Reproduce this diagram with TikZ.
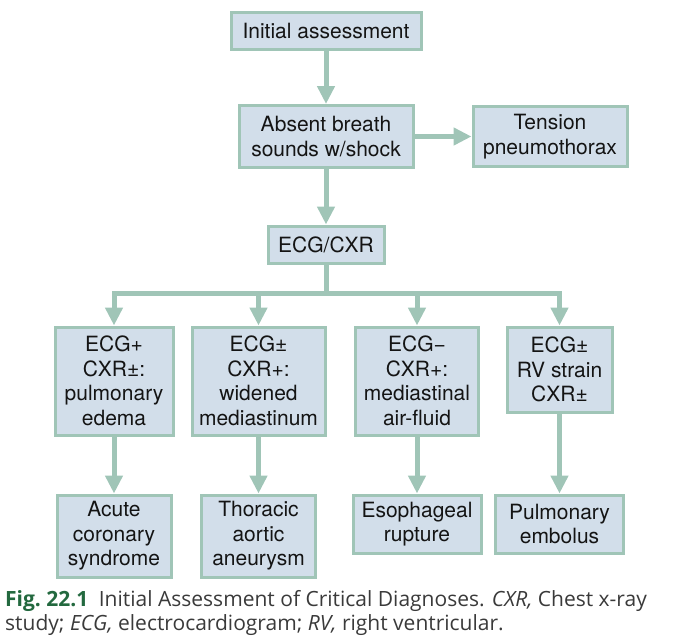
\documentclass[tikz,border=0pt]{standalone}
\usepackage{fontspec}
\setmainfont{TeX Gyre Heros}
\newfontfamily\capfont{Open Sans}
\usepackage{xcolor}
\usepackage{tikz}
\usetikzlibrary{arrows.meta,positioning,calc}
\definecolor{INK}{HTML}{141414}
\definecolor{BOXBG}{HTML}{D2DEEA}
\definecolor{SAGE}{HTML}{A0C5B7}
\definecolor{FIGGREEN}{HTML}{23693F}
\definecolor{CAPTXT}{HTML}{3A3A3A}

\begin{document}
\begin{tikzpicture}[
  x=1pt, y=-1pt,
  font=\fontsize{21}{24.5}\selectfont,
  dx/.style={draw=SAGE, fill=BOXBG, line width=3pt, align=center, text=INK,
    inner sep=0pt},
  link/.style={draw=SAGE, line width=5pt},
  arr/.style={link, -{Triangle[length=18pt, width=17pt]}},
  captxt/.style={anchor=base west, inner sep=0pt, text=CAPTXT,
    font=\capfont\fontsize{21}{24}\selectfont},
]
\useasboundingbox (0,0) rectangle (687,643);

% ---- top of the chart -----------------------------------------------------
\node[dx, minimum width=190pt, minimum height=37pt] (init) at (326,30.5) {Initial assessment};
\node[dx, minimum width=174pt, minimum height=62pt] (absent) at (326,136.5) {Absent breath\\sounds w/shock};
\node[dx, minimum width=154pt, minimum height=60pt] (tension) at (550,136.5) {Tension\\pneumothorax};
\node[dx, minimum width=116pt, minimum height=37pt] (ecg) at (326,244.5) {ECG/CXR};
\draw[arr] (init.south) -- (absent.north);
\draw[arr] (absent.east) -- (tension.west);
\draw[arr] (absent.south) -- (ecg.north);

% ---- findings -------------------------------------------------------------
\node[dx, minimum width=118pt, minimum height=108pt] (f1) at (114,381) {ECG+\\CXR±:\\pulmonary\\edema};
\node[dx, minimum width=133pt, minimum height=108pt] (f2) at (258.5,381) {ECG±\\CXR+:\\widened\\mediastinum};
\node[dx, minimum width=123pt, minimum height=108pt] (f3) at (417,381) {ECG−\\CXR+:\\mediastinal\\air-fluid};
\node[dx, minimum width=105pt, minimum height=85pt] (f4) at (559.5,369.5) {ECG±\\RV strain\\CXR±};

% ---- split from ECG/CXR ---------------------------------------------------
\coordinate (bus) at (326,293);
\foreach \i in {1,...,4}
  \draw[arr] (ecg.south) -- (bus) -| (f\i.north);

% ---- diagnoses ------------------------------------------------------------
\node[dx, minimum width=114pt, minimum height=82pt] (d1) at (114,536) {Acute\\coronary\\syndrome};
\node[dx, minimum width=114pt, minimum height=82pt] (d2) at (258.5,536) {Thoracic\\aortic\\aneurysm};
\node[dx, minimum width=128pt, minimum height=58pt] (d3) at (417,524) {Esophageal\\rupture};
\node[dx, minimum width=128pt, minimum height=58pt] (d4) at (559.5,524) {Pulmonary\\embolus};
\foreach \i in {1,...,4}
  \draw[arr] (f\i.south) -- (d\i.north);

% ---- caption --------------------------------------------------------------
\node[captxt] (cap1) at (5,606) {{\bfseries\color{FIGGREEN}Fig.~22.1}\enspace Initial Assessment of Critical Diagnoses. \emph{CXR,} Chest x-ray};
\node[captxt] (cap2) at (5,630) {study; \emph{ECG,} electrocardiogram; \emph{RV,} right ventricular.};

\end{tikzpicture}
\end{document}
